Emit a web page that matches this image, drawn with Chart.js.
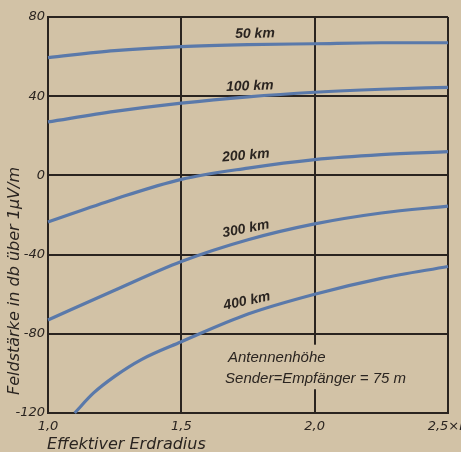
<!DOCTYPE html>
<html>
<head>
<meta charset="utf-8">
<script src="https://cdn.jsdelivr.net/npm/chart.js@4/dist/chart.umd.min.js"></script>
<style>
html,body{margin:0;padding:0;background:#d2c2a6;}
#wrap{width:461px;height:452px;position:relative;}
</style>
</head>
<body>
<div id="wrap"><canvas id="c" width="461" height="452"></canvas></div>
<script>
// ---- data ----
const radiusValues = [1.0, 1.25, 1.5, 1.75, 2.0, 2.25, 2.5];
const radius400 = [1.1, 1.17, 1.25, 1.35, 1.5, 1.75, 2.0, 2.25, 2.5];
const field50km  = [59.5, 63, 65, 66, 66.5, 67, 67];
const field100km = [27, 32.3, 36.5, 39.7, 42, 43.5, 44.5];
const field200km = [-23.5, -12, -2, 3.7, 8, 10.5, 12];
const field300km = [-73, -58, -43.5, -32.5, -24.5, -19, -15.5];
const field400km = [-120, -110, -101.5, -93, -84, -70, -60, -52, -46];
const seriesNames = ['50 km', '100 km', '200 km', '300 km', '400 km'];
const xTickValues = [1.0, 1.5, 2.0, 2.5];
const xTickLabels = ['1,0', '1,5', '2,0', '2,5×R'];
const yTickValues = [80, 40, 0, -40, -80, -120];
const xAxisTitle = 'Effektiver Erdradius';
const yAxisTitle = 'Feldstärke in db über 1µV/m';
const noteLines = ['Antennenhöhe', 'Sender=Empfänger = 75 m'];

const PAPER = '#d2c2a6';
const INK = '#2a2420';
const BLUE = '#5a79aa';
const FONT = '"DejaVu Sans", "Liberation Sans", sans-serif';
const FONT2 = '"Liberation Sans", Arial, sans-serif';

function pts(xs, ys){ return xs.map((x,i)=>({x:x, y:ys[i]})); }

// label placement (data coordinates) and rotation
const labelPlacement = [
  {x:1.776, y:71.5, rot:-1},
  {x:1.757, y:45, rot:-2},
  {x:1.742, y:10, rot:-5},
  {x:1.742, y:-27, rot:-11},
  {x:1.746, y:-63.5, rot:-12}
];

const decorPlugin = {
  id:'decor',
  beforeDraw(chart){
    const ctx = chart.ctx;
    ctx.save();
    ctx.fillStyle = PAPER;
    ctx.fillRect(0,0,chart.width,chart.height);
    ctx.restore();
  },
  afterDraw(chart){
    const ctx = chart.ctx;
    const xs = chart.scales.x, ys = chart.scales.y;
    ctx.save();
    // curve labels
    ctx.fillStyle = INK;
    ctx.font = 'italic bold 14px ' + FONT2;
    ctx.textAlign = 'center';
    ctx.textBaseline = 'middle';
    seriesNames.forEach((name,i)=>{
      const p = labelPlacement[i];
      const px = xs.getPixelForValue(p.x), py = ys.getPixelForValue(p.y);
      ctx.save();
      ctx.translate(px,py);
      ctx.rotate(p.rot*Math.PI/180);
      ctx.fillText(name,0,0);
      ctx.restore();
    });
    // note box
    const bx = xs.getPixelForValue(1.65), bx2 = xs.getPixelForValue(2.36);
    const by = ys.getPixelForValue(-85.5), by2 = ys.getPixelForValue(-108);
    ctx.fillStyle = PAPER;
    ctx.fillRect(bx, by, bx2-bx, by2-by);
    ctx.fillStyle = INK;
    ctx.font = 'italic 15px ' + FONT2;
    ctx.textAlign = 'left';
    ctx.fillText(noteLines[0], xs.getPixelForValue(1.675), ys.getPixelForValue(-92));
    ctx.fillText(noteLines[1], xs.getPixelForValue(1.664), ys.getPixelForValue(-102.5));
    // axis titles
    ctx.font = 'italic 16px ' + FONT;
    ctx.textAlign = 'left';
    ctx.fillText(xAxisTitle, chart.chartArea.left - 1, 445);
    ctx.save();
    ctx.translate(15, 281);
    ctx.rotate(-Math.PI/2);
    ctx.textAlign = 'center';
    ctx.fillText(yAxisTitle, 0, 0);
    ctx.restore();
    ctx.restore();
  }
};

const ds = (label, data) => ({
  label, data, borderColor: BLUE, borderWidth: 3.2, pointRadius: 0,
  fill: false, cubicInterpolationMode: 'monotone', clip: false
});

new Chart(document.getElementById('c'), {
  type: 'line',
  data: {
    datasets: [
      ds(seriesNames[0], pts(radiusValues, field50km)),
      ds(seriesNames[1], pts(radiusValues, field100km)),
      ds(seriesNames[2], pts(radiusValues, field200km)),
      ds(seriesNames[3], pts(radiusValues, field300km)),
      ds(seriesNames[4], pts(radius400, field400km))
    ]
  },
  options: {
    responsive: false,
    animation: false,
    devicePixelRatio: 1,
    layout: { padding: { top: 17, right: 13, left: 0, bottom: 0 } },
    plugins: { legend: { display: false }, tooltip: { enabled: false } },
    scales: {
      x: {
        type: 'linear', min: 1.0, max: 2.5,
        afterBuildTicks(s){ s.ticks = xTickValues.map(v=>({value:v})); },
        afterFit(s){ s.height = 39; s.paddingLeft = 0; s.paddingRight = 0; },
        ticks: {
          color: INK, padding: 6, maxRotation: 0, autoSkip: false,
          font: { family: FONT, size: 13, style: 'italic' },
          callback(v){ const i = xTickValues.indexOf(v); return i>=0 ? xTickLabels[i] : ''; }
        },
        grid: { color: INK, lineWidth: 2, drawTicks: false },
        border: { color: INK, width: 2 }
      },
      y: {
        type: 'linear', min: -120, max: 80,
        afterBuildTicks(s){ s.ticks = yTickValues.map(v=>({value:v})); },
        afterFit(s){ s.width = 48; s.paddingTop = 0; s.paddingBottom = 0; },
        ticks: {
          color: INK, padding: 3,
          font: { family: FONT, size: 13, style: 'italic' },
          callback(v){ return v < 0 ? '-' + Math.abs(v) : String(v); }
        },
        grid: { color: INK, lineWidth: 2, drawTicks: false },
        border: { color: INK, width: 2 }
      }
    }
  },
  plugins: [decorPlugin]
});
</script>
</body>
</html>
